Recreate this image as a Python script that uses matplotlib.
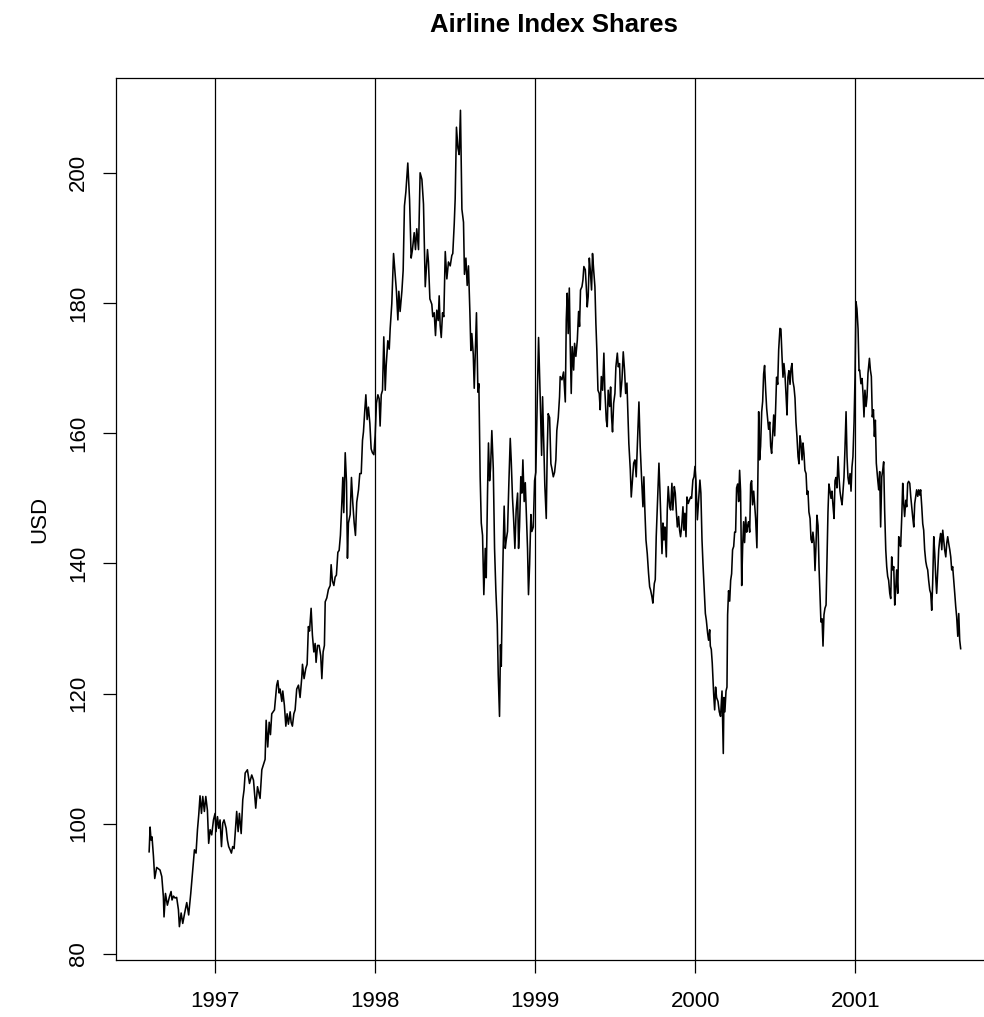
import matplotlib
matplotlib.use("Agg")
import matplotlib.pyplot as plt

# decimal year of each traced vertex, and the index value in USD
years = [
    1996.588, 1996.594, 1996.600, 1996.606, 1996.615, 1996.623, 1996.635, 1996.656, 1996.667, 1996.677,
    1996.681, 1996.690, 1996.702, 1996.715, 1996.725, 1996.731, 1996.740, 1996.750, 1996.760, 1996.771,
    1996.777, 1996.788, 1996.798, 1996.810, 1996.823, 1996.835, 1996.848, 1996.860, 1996.871, 1996.881,
    1996.890, 1996.898, 1996.906, 1996.915, 1996.923, 1996.933, 1996.942, 1996.952, 1996.960, 1996.969,
    1996.979, 1996.990, 1997.000, 1997.006, 1997.015, 1997.023, 1997.031, 1997.040, 1997.048, 1997.056,
    1997.069, 1997.077, 1997.085, 1997.094, 1997.102, 1997.110, 1997.119, 1997.127, 1997.135, 1997.144,
    1997.152, 1997.163, 1997.173, 1997.181, 1997.188, 1997.202, 1997.215, 1997.229, 1997.240, 1997.254,
    1997.265, 1997.281, 1997.292,
    1997.3125, 1997.319, 1997.329, 1997.338, 1997.346, 1997.354, 1997.371, 1997.385, 1997.392, 1997.400,
    1997.406, 1997.417, 1997.423, 1997.433, 1997.442, 1997.450, 1997.458, 1997.469, 1997.475, 1997.483,
    1997.492, 1997.500, 1997.510, 1997.521, 1997.531, 1997.542, 1997.546, 1997.556, 1997.567, 1997.575,
    1997.583, 1997.590, 1997.600, 1997.608, 1997.617, 1997.625, 1997.631, 1997.640, 1997.650, 1997.660,
    1997.667, 1997.675, 1997.683, 1997.688, 1997.698, 1997.708, 1997.719, 1997.725, 1997.733, 1997.742,
    1997.750, 1997.758, 1997.767, 1997.775, 1997.783, 1997.792, 1997.798, 1997.804, 1997.813, 1997.821,
    1997.827, 1997.833, 1997.844, 1997.852, 1997.860, 1997.869, 1997.877, 1997.885, 1997.896, 1997.904,
    1997.913, 1997.921, 1997.927, 1997.935, 1997.942, 1997.950, 1997.958, 1997.967, 1997.975, 1997.983,
    1997.992, 1998.000, 1998.008, 1998.017, 1998.025, 1998.031, 1998.038, 1998.046, 1998.054, 1998.063,
    1998.069, 1998.079, 1998.088, 1998.094, 1998.104, 1998.115, 1998.125, 1998.133, 1998.142, 1998.148,
    1998.156, 1998.167, 1998.175, 1998.183, 1998.192, 1998.204, 1998.215, 1998.225, 1998.233, 1998.244,
    1998.252, 1998.260, 1998.271, 1998.281, 1998.292, 1998.302, 1998.313, 1998.319, 1998.327, 1998.333,
    1998.342,
    1998.344, 1998.354, 1998.360, 1998.369, 1998.377, 1998.385, 1998.394, 1998.400, 1998.406, 1998.413,
    1998.421, 1998.429, 1998.438, 1998.448, 1998.458, 1998.469, 1998.479, 1998.485, 1998.494, 1998.500,
    1998.508, 1998.517, 1998.525, 1998.533, 1998.542, 1998.552, 1998.558, 1998.567, 1998.575, 1998.583,
    1998.592, 1998.598, 1998.604, 1998.613, 1998.619, 1998.625, 1998.633, 1998.642, 1998.648, 1998.656,
    1998.663, 1998.671, 1998.679, 1998.688, 1998.694, 1998.702, 1998.708, 1998.715, 1998.721, 1998.729,
    1998.738, 1998.746, 1998.754, 1998.763, 1998.769, 1998.777, 1998.783, 1998.788, 1998.794, 1998.800,
    1998.806, 1998.813, 1998.819, 1998.827, 1998.835, 1998.844, 1998.850, 1998.858, 1998.865, 1998.873,
    1998.881, 1998.890, 1998.896, 1998.902, 1998.910, 1998.917, 1998.923, 1998.931, 1998.938, 1998.944,
    1998.952, 1998.958, 1998.965, 1998.973, 1998.979, 1998.988, 1998.996, 1999.004, 1999.013, 1999.021,
    1999.031, 1999.040, 1999.046, 1999.054, 1999.060, 1999.069, 1999.075, 1999.081, 1999.090, 1999.098,
    1999.104, 1999.113, 1999.121, 1999.129, 1999.135, 1999.144, 1999.152,
    1999.156, 1999.167, 1999.177, 1999.188, 1999.194, 1999.200, 1999.206, 1999.213, 1999.219, 1999.225,
    1999.231, 1999.240, 1999.246, 1999.254, 1999.263, 1999.271, 1999.277, 1999.283, 1999.292, 1999.298,
    1999.304, 1999.313, 1999.319, 1999.325, 1999.331, 1999.338, 1999.344, 1999.352, 1999.358, 1999.365,
    1999.373, 1999.379, 1999.385, 1999.392, 1999.400, 1999.406, 1999.413, 1999.421, 1999.429, 1999.435,
    1999.444, 1999.450, 1999.456, 1999.465, 1999.471, 1999.477, 1999.483, 1999.490, 1999.498, 1999.504,
    1999.513, 1999.519, 1999.527, 1999.533, 1999.542, 1999.550, 1999.558, 1999.565, 1999.573, 1999.579,
    1999.585, 1999.594, 1999.600, 1999.606, 1999.615, 1999.623, 1999.631, 1999.640, 1999.648, 1999.656,
    1999.665, 1999.673, 1999.679, 1999.685, 1999.692, 1999.700, 1999.708, 1999.715, 1999.721, 1999.729,
    1999.735, 1999.744, 1999.750, 1999.756, 1999.765, 1999.773, 1999.779, 1999.785, 1999.792, 1999.798,
    1999.804, 1999.810, 1999.819, 1999.825, 1999.831, 1999.840, 1999.846, 1999.854, 1999.860, 1999.869,
    1999.875, 1999.881, 1999.888, 1999.896, 1999.902, 1999.908, 1999.915, 1999.923, 1999.929, 1999.935,
    1999.942, 1999.948, 1999.956, 1999.963, 1999.971, 1999.977, 1999.985, 1999.992, 1999.998, 2000.004,
    2000.013, 2000.021, 2000.029, 2000.035, 2000.042, 2000.048, 2000.056, 2000.063, 2000.069, 2000.077,
    2000.083, 2000.090,
    2000.094, 2000.100, 2000.106, 2000.115, 2000.121, 2000.127, 2000.133, 2000.142, 2000.150, 2000.158,
    2000.167, 2000.175, 2000.179, 2000.185, 2000.192, 2000.198, 2000.202, 2000.208, 2000.215, 2000.221,
    2000.227, 2000.233, 2000.240, 2000.246, 2000.252, 2000.258, 2000.265, 2000.271, 2000.277, 2000.283,
    2000.290, 2000.296, 2000.302, 2000.308, 2000.315, 2000.321, 2000.327, 2000.333, 2000.340, 2000.346,
    2000.352, 2000.358, 2000.365, 2000.371, 2000.377, 2000.385, 2000.392, 2000.396, 2000.402, 2000.408,
    2000.415, 2000.421, 2000.427, 2000.433, 2000.440, 2000.446, 2000.452, 2000.458, 2000.465, 2000.471,
    2000.477, 2000.483, 2000.490, 2000.496, 2000.502, 2000.508, 2000.515, 2000.521, 2000.529, 2000.535,
    2000.542, 2000.548, 2000.554, 2000.560, 2000.567, 2000.573, 2000.579, 2000.585, 2000.592, 2000.598,
    2000.604, 2000.610, 2000.617, 2000.623, 2000.629, 2000.635, 2000.642, 2000.648, 2000.654, 2000.660,
    2000.667, 2000.673, 2000.679, 2000.685, 2000.692, 2000.698, 2000.704, 2000.710, 2000.717, 2000.723,
    2000.729, 2000.735, 2000.742, 2000.748, 2000.754, 2000.760, 2000.767, 2000.773, 2000.779, 2000.785,
    2000.792, 2000.798, 2000.804, 2000.810, 2000.817, 2000.823, 2000.829, 2000.835, 2000.842, 2000.848,
    2000.854, 2000.860, 2000.867, 2000.873, 2000.879, 2000.885, 2000.892, 2000.898, 2000.904, 2000.910,
    2000.917, 2000.923, 2000.929, 2000.935, 2000.942, 2000.948, 2000.954, 2000.960, 2000.967, 2000.973,
    2000.979, 2000.985, 2000.992, 2000.998, 2001.004, 2001.010, 2001.017, 2001.023,
    2001.027, 2001.035, 2001.042, 2001.048, 2001.054, 2001.060, 2001.067, 2001.073, 2001.079, 2001.088,
    2001.094, 2001.100, 2001.106, 2001.113, 2001.119, 2001.125, 2001.131, 2001.140, 2001.146, 2001.152,
    2001.158, 2001.165, 2001.171, 2001.177, 2001.183, 2001.190, 2001.196, 2001.202, 2001.208, 2001.215,
    2001.221, 2001.227, 2001.233, 2001.240, 2001.246, 2001.252, 2001.258, 2001.265, 2001.271, 2001.277,
    2001.283, 2001.290, 2001.296, 2001.302, 2001.308, 2001.315, 2001.321, 2001.327, 2001.333, 2001.340,
    2001.346, 2001.352, 2001.358, 2001.365, 2001.371, 2001.377, 2001.383, 2001.390, 2001.396, 2001.402,
    2001.408, 2001.415, 2001.421, 2001.427, 2001.433, 2001.440, 2001.446, 2001.452, 2001.458, 2001.465,
    2001.471, 2001.477, 2001.483, 2001.490, 2001.496, 2001.502, 2001.508, 2001.515, 2001.521, 2001.527,
    2001.533, 2001.540, 2001.546, 2001.552, 2001.558, 2001.565, 2001.571, 2001.577, 2001.583, 2001.590,
    2001.596, 2001.602, 2001.608, 2001.615, 2001.621, 2001.627, 2001.633, 2001.640, 2001.646, 2001.652,
    2001.658,
]

usd = [
    95.7, 99.5, 97.5, 98.0, 95.0, 91.6, 93.3, 92.9, 91.9, 88.8,
    85.7, 89.3, 87.5, 88.8, 89.6, 88.3, 88.9, 88.6, 88.7, 86.8,
    84.2, 86.3, 84.7, 86.3, 87.9, 86.0, 89.3, 92.9, 96.0, 95.5,
    99.1, 101.4, 104.3, 101.6, 104.2, 101.9, 104.2, 102.1, 97.0, 99.1,
    98.3, 100.6, 101.6, 98.8, 101.1, 99.3, 100.6, 96.5, 100.1, 100.6,
    99.3, 97.5, 96.5, 96.0, 95.5, 96.5, 96.2, 99.1, 101.9, 98.8,
    101.6, 98.5, 103.7, 105.2, 107.8, 108.3, 106.2, 107.5, 106.7, 102.4,
    105.7, 103.9, 108.3,
    109.9, 115.9, 111.8, 115.6, 113.7, 116.9, 117.5, 121.3, 122.0, 120.1,
    120.7, 118.8, 120.4, 118.2, 115.0, 116.9, 115.3, 117.2, 115.6, 115.0,
    116.9, 117.5, 120.7, 121.3, 119.4, 122.6, 124.5, 122.3, 123.9, 124.5,
    130.3, 129.6, 133.1, 129.0, 126.4, 127.7, 124.8, 127.4, 127.4, 125.8,
    122.3, 126.4, 127.4, 134.1, 134.7, 136.0, 136.6, 139.8, 137.3, 136.6,
    137.9, 138.2, 141.7, 142.0, 144.3, 149.4, 153.2, 147.8, 157.0, 152.5,
    140.8, 146.2, 147.5, 153.2, 149.4, 146.2, 144.3, 149.4, 151.3, 153.8,
    153.8, 158.9, 160.2, 163.4, 165.9, 162.1, 164.0, 161.5, 157.6, 157.0,
    156.7, 159.6, 164.6, 165.9, 165.3, 161.1, 165.9, 166.6, 174.8, 166.6,
    170.4, 174.2, 172.9, 176.1, 179.9, 187.6, 184.4, 181.8, 177.4, 181.8,
    178.7, 181.8, 185.0, 194.9, 197.1, 201.5, 195.9, 186.9, 188.2, 190.8,
    188.2, 191.4, 188.2, 200.0, 199.0, 195.2, 182.5, 185.0, 188.2, 186.3,
    180.6,
    180.5, 179.8, 177.9, 178.5, 175.0, 178.9, 177.3, 181.1, 176.6, 174.7,
    178.5, 177.9, 187.9, 183.7, 186.3, 185.7, 187.3, 187.6, 192.1, 196.0,
    207.0, 203.8, 202.8, 209.6, 194.4, 192.4, 184.4, 186.9, 182.7, 185.7,
    178.5, 172.7, 175.3, 172.1, 166.9, 172.1, 178.5, 166.3, 167.6, 153.3,
    146.2, 144.3, 135.2, 142.3, 137.8, 150.8, 158.5, 152.7, 154.6, 160.4,
    154.6, 142.3, 135.9, 130.7, 122.9, 116.5, 127.5, 124.2, 134.6, 142.3,
    148.8, 142.3, 143.6, 144.9, 152.0, 159.2, 155.9, 150.1, 146.9, 142.3,
    148.2, 150.8, 142.3, 145.6, 153.3, 150.8, 155.9, 149.5, 152.4, 148.2,
    142.3, 135.2, 139.8, 147.5, 144.9, 145.6, 152.7, 154.0, 165.6, 174.7,
    165.6, 156.6, 165.6, 157.9, 152.0, 146.9, 157.2, 163.0, 162.4, 155.3,
    154.6, 153.3, 154.0, 155.9, 160.4, 162.4, 165.6,
    168.7, 168.2, 169.4, 164.8, 177.4, 181.5, 175.3, 182.3, 173.3, 166.1,
    173.3, 169.7, 173.8, 171.8, 174.3, 178.7, 176.4, 182.0, 182.5, 183.5,
    185.6, 185.1, 182.5, 179.4, 181.0, 186.9, 185.1, 182.0, 187.6, 185.1,
    182.5, 176.9, 172.8, 166.6, 166.1, 163.6, 168.7, 166.6, 172.3, 166.6,
    162.0, 161.0, 166.6, 164.1, 167.1, 162.5, 160.2, 164.6, 166.1, 170.2,
    172.3, 170.2, 170.7, 165.6, 168.2, 172.5, 169.7, 166.1, 167.7, 163.0,
    158.4, 154.4, 150.2, 152.3, 155.4, 155.9, 153.3, 159.5, 164.8, 157.9,
    152.8, 148.7, 153.3, 148.2, 143.6, 141.5, 138.5, 136.4, 135.9, 134.9,
    133.9, 136.9, 137.5, 144.1, 150.2, 155.4, 151.3, 146.7, 141.5, 146.2,
    143.6, 145.6, 141.0, 148.2, 151.8, 148.7, 148.2, 152.3, 148.2, 151.8,
    150.8, 148.2, 145.6, 147.2, 145.1, 144.1, 145.6, 148.7, 145.1, 147.7,
    144.1, 150.2, 149.2, 149.7, 150.2, 150.0, 152.8, 153.3, 154.9, 152.8,
    146.7, 149.7, 152.8, 150.8, 143.6, 140.0, 135.9, 132.3, 131.3, 129.3,
    128.2, 129.8,
    127.3, 126.8, 124.7, 119.9, 117.5, 121.0, 119.4, 118.8, 117.2, 116.5,
    120.4, 110.8, 119.4, 117.2, 120.4, 121.0, 132.1, 135.8, 134.2, 137.4,
    138.4, 142.1, 142.6, 144.8, 144.8, 151.6, 152.2, 149.5, 154.3, 151.1,
    136.6, 142.6, 146.4, 143.2, 147.1, 144.8, 145.8, 146.4, 144.8, 152.2,
    152.7, 149.0, 151.1, 149.0, 146.9, 142.4, 154.8, 163.3, 155.9, 158.0,
    163.3, 164.9, 169.1, 170.4, 166.5, 163.8, 162.2, 160.6, 161.7, 158.0,
    156.9, 159.6, 162.8, 159.6, 163.8, 168.6, 167.5, 172.8, 176.1, 176.0,
    171.7, 168.6, 170.7, 169.1, 165.9, 162.8, 168.6, 169.6, 167.5, 169.9,
    170.7, 168.0, 167.0, 165.4, 161.7, 159.6, 156.4, 155.3, 159.6, 158.5,
    155.9, 158.5, 156.9, 154.3, 153.8, 150.6, 151.1, 147.9, 146.9, 143.7,
    143.2, 144.8, 143.2, 138.9, 142.6, 147.4, 145.8, 139.5, 135.2, 131.0,
    131.5, 127.3, 132.1, 133.1, 133.6, 140.5, 147.9, 152.2, 151.1, 150.0,
    151.1, 149.0, 146.9, 152.7, 153.2, 151.6, 156.4, 153.2, 151.1, 150.0,
    149.0, 151.1, 153.2, 157.5, 163.3, 156.4, 153.2, 152.2, 153.8, 151.1,
    154.8, 156.4, 161.7, 168.6, 180.2, 179.1, 176.0, 169.6,
    169.7, 167.6, 168.4, 166.1, 162.5, 166.6, 164.1, 165.6, 169.2, 171.5,
    169.7, 168.7, 162.5, 163.6, 159.5, 162.0, 155.4, 152.8, 151.3, 154.1,
    145.6, 153.3, 154.3, 155.6, 148.2, 142.1, 139.5, 138.0, 137.4, 135.4,
    134.6, 141.0, 139.0, 139.5, 133.6, 135.9, 139.0, 135.4, 144.1, 143.1,
    142.6, 147.2, 152.3, 149.2, 147.2, 149.7, 148.7, 152.3, 152.6, 152.3,
    150.3, 148.7, 147.2, 145.6, 149.2, 150.3, 151.3, 150.3, 151.3, 150.5,
    151.3, 148.7, 146.1, 145.1, 142.1, 140.3, 139.5, 139.0, 137.4, 135.9,
    135.4, 132.8, 136.9, 144.1, 141.5, 138.0, 135.4, 139.0, 142.1, 143.6,
    144.6, 142.1, 145.1, 143.6, 142.1, 141.0, 143.1, 144.1, 143.1, 142.1,
    141.0, 139.0, 139.5, 137.4, 135.4, 133.4, 131.8, 128.8, 132.3, 128.2,
    126.9,
]

year_marks = [1997, 1998, 1999, 2000, 2001]
usd_ticks = [80, 100, 120, 140, 160, 180, 200]

plt.rcParams['font.family'] = ['Liberation Sans', 'DejaVu Sans']

W, H = 984, 1017
fig = plt.figure(figsize=(W / 100, H / 100), dpi=100)
# plot region in pixels: left 116, right ~993 (runs past the image edge), top 78, bottom 960
ax = fig.add_axes([116 / W, (H - 960) / H, (993 - 116) / W, (960 - 78) / H])

ax.plot(years, usd, color='black', linewidth=1.15)
for yr in year_marks:
    ax.axvline(yr, color='black', linewidth=0.9)

ax.set_xlim(1996.381, 2001.86)
ax.set_ylim(79.08, 214.56)
ax.set_xticks(year_marks)
ax.set_xticklabels([str(y) for y in year_marks])
ax.set_yticks(usd_ticks)
ax.set_yticklabels([str(v) for v in usd_ticks], rotation=90, va='center')

ax.tick_params(axis='both', direction='out', length=9.4, width=0.9, labelsize=16, colors='black')
ax.tick_params(axis='x', pad=13)
ax.tick_params(axis='y', pad=10)
for side in ax.spines.values():
    side.set_linewidth(0.9)
    side.set_color('black')

fig.text(40 / W, 1 - 519 / H, 'USD', rotation=90, ha='center', va='center', fontsize=16)
fig.text(554 / W, 1 - 25 / H, 'Airline Index Shares', ha='center', va='center',
         fontsize=18.5, fontweight='bold')

fig.savefig('out.png', dpi=100, facecolor='white')
